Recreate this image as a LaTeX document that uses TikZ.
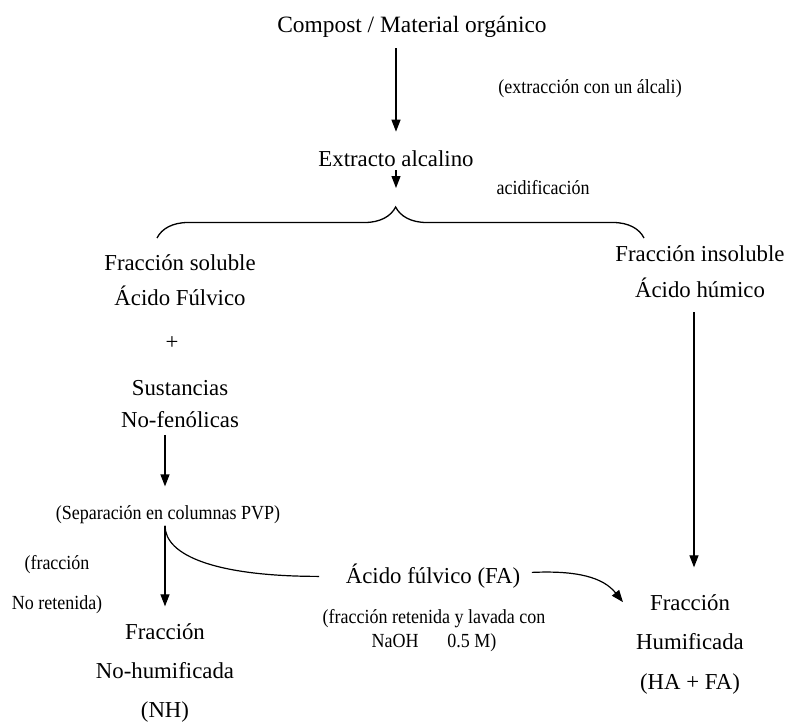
\documentclass[tikz,border=0pt]{standalone}
\usepackage{fontspec}
\usepackage{graphicx}
\setmainfont{Liberation Serif}
\usetikzlibrary{arrows.meta,decorations.pathreplacing}
\newcommand\cond[1]{\scalebox{0.9}[1]{#1}}
\begin{document}
\begin{tikzpicture}[x=1pt,y=-1pt,
  mainfont/.style={inner sep=0pt, align=center, font=\fontsize{22.8}{35}\selectfont},
  smallfont/.style={inner sep=0pt, align=center, font=\fontsize{20}{24}\selectfont},
  arr/.style={line width=1.2pt, -{Triangle[width=9pt,length=12pt]}},
  curve/.style={line width=1.2pt}]
\useasboundingbox (0,0) rectangle (789,725);

% nodes
\node[mainfont, font=\fontsize{23.4}{28}\selectfont] (compost) at (412,27) {Compost / Material orgánico};
\node[smallfont] (extr) at (590,89) {\cond{(extracción con un álcali)}};
\node[mainfont] (ext) at (396,158.6) {Extracto alcalino};
\node[smallfont] (acid) at (543,188) {\cond{acidificación}};
\coordinate (bl) at (157,238);
\coordinate (br) at (644,238);
\coordinate (bt) at (396,207);

\node[mainfont] (sol) at (180,280.2) {Fracción soluble\\Ácido Fúlvico};
\node[mainfont] (plus) at (172,343) {+};
\node[mainfont, font=\fontsize{22.8}{32}\selectfont] (sust) at (180,403.6) {Sustancias\\No-fenólicas};
\node[smallfont] (sep) at (168,514.4) {\cond{(Separación en columnas PVP)}};
\node[smallfont, font=\fontsize{20}{40}\selectfont] (fr) at (57,584.4) {\cond{(fracción}\\\cond{No retenida)}};
\node[mainfont, font=\fontsize{22.8}{39}\selectfont] (nh) at (165,672.7) {Fracción\\No-humificada\\(NH)};

\node[mainfont] (fa) at (433,576.4) {Ácido fúlvico (FA)};
\node[smallfont] (fanote) at (434,630.4) {\cond{(fracción retenida y lavada con}\\\cond{NaOH\hspace{32pt}0.5 M)}};

\node[mainfont, font=\fontsize{22.8}{36}\selectfont] (insol) at (700,271.7) {Fracción insoluble\\Ácido húmico};
\node[mainfont, font=\fontsize{22.8}{39.5}\selectfont] (hum) at (690,644.2) {Fracción\\Humificada\\(HA + FA)};

% connectors
\draw[arr, shorten <=10.4pt, shorten >=18.7pt] (compost.south -| ext.north) -- (ext.north);
\draw[arr, shorten <=3.5pt, shorten >=19pt] (ext.south) -- (bt);
\draw[line width=1.3pt, decorate, decoration={brace, amplitude=31pt, aspect=0.49}] (bl) -- (br);
\draw[arr, shorten <=7.5pt, shorten >=18.7pt] (sust.south -| nh.north) -- (sep.north -| nh.north);
\draw[arr, shorten <=2pt, shorten >=16.8pt] (sep.south -| nh.north) -- (nh.north);
\draw[curve] (sep.south -| nh.north) ++(0,2) .. controls +(0,30) and +(-103,0) .. ([xshift=-26.5pt]fa.west);
\draw[arr, shorten <=14.5pt, shorten >=26.8pt] ([xshift=-6pt]insol.south) -- ([xshift=-6pt]insol.south |- hum.north);
\draw[arr] ([xshift=11.5pt,yshift=4pt]fa.east) .. controls +(45,-2) and +(-20,-25) .. ([xshift=-13pt,yshift=-8pt]hum.north west);
\end{tikzpicture}
\end{document}
